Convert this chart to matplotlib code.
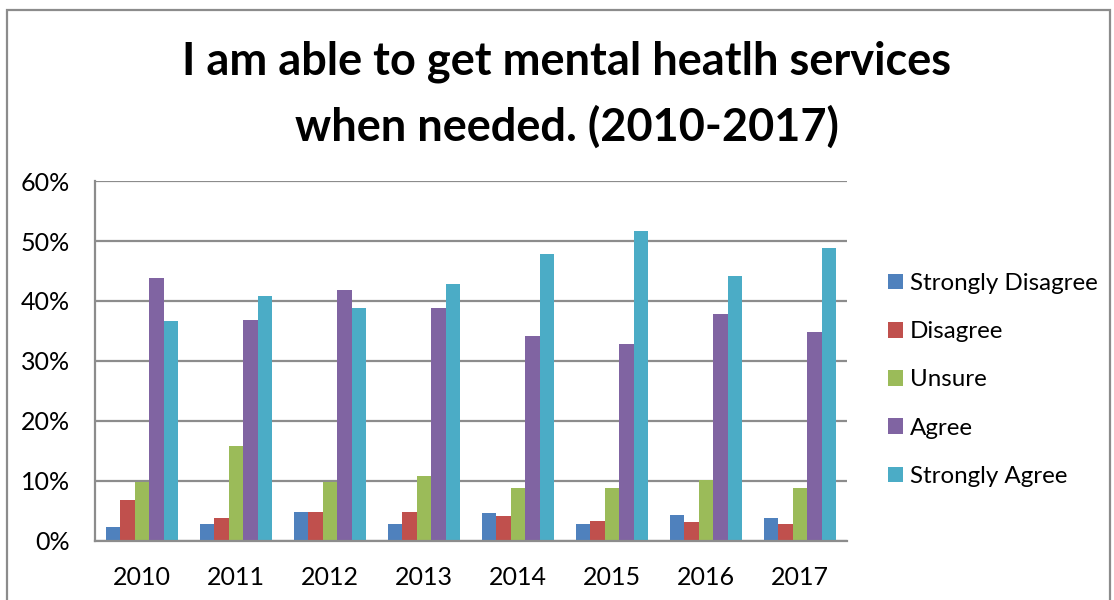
import numpy as np
import matplotlib.pyplot as plt
import matplotlib.patches as patches

plt.rcParams['font.family'] = ['Lato', 'DejaVu Sans']

# 年份与各选项占比（%）
years = ['2010', '2011', '2012', '2013', '2014', '2015', '2016', '2017']
strongly_disagree = [2.4, 2.9, 4.9, 2.9, 4.6, 2.8, 4.3, 3.8]
disagree = [6.8, 3.8, 4.9, 4.9, 4.2, 3.3, 3.1, 2.9]
unsure = [9.8, 15.9, 9.9, 10.9, 8.9, 8.8, 10.2, 8.8]
agree = [43.9, 36.9, 41.9, 38.9, 34.1, 32.9, 37.8, 34.9]
strongly_agree = [36.7, 40.9, 38.9, 42.9, 47.8, 51.7, 44.2, 48.9]

series = [strongly_disagree, disagree, unsure, agree, strongly_agree]
names = ['Strongly Disagree', 'Disagree', 'Unsure', 'Agree', 'Strongly Agree']
colors = ['#4F81BD', '#C0504D', '#9BBB59', '#8064A2', '#4BACC6']

fig = plt.figure(figsize=(11.14, 6), dpi=100)
ax = fig.add_axes([95/1114, 59/600, 752/1114, 360/600])

x = np.arange(len(years))
w = 0.153
for i, (vals, name, c) in enumerate(zip(series, names, colors)):
    ax.bar(x + (i - 2) * w, vals, w, color=c, label=name, zorder=3)

# 坐标轴和网格
ax.set_xlim(-0.5, len(years) - 0.5)
ax.set_ylim(0, 60)
ax.set_yticks(range(0, 61, 10))
ax.set_yticklabels([f'{v}%' for v in range(0, 61, 10)])
ax.set_xticks(x)
ax.set_xticklabels(years)
ax.tick_params(axis='both', length=0, labelsize=18, colors='black')
ax.tick_params(axis='y', pad=18)
ax.tick_params(axis='x', pad=18)
ax.grid(axis='y', color='#8C8C8C', linewidth=1.6, zorder=0)
for s in ['top', 'right']:
    ax.spines[s].set_visible(False)
for s in ['left', 'bottom']:
    ax.spines[s].set_color('#8C8C8C')
    ax.spines[s].set_linewidth(1.6)
    ax.spines[s].set_zorder(4)

# 标题
fig.text(567/1114, 1 - 62/600, 'I am able to get mental heatlh services',
         ha='center', va='center', fontsize=32.5, fontweight='bold')
fig.text(567/1114, 1 - 127/600, 'when needed. (2010-2017)',
         ha='center', va='center', fontsize=32.5, fontweight='bold')

# 图例
fig.legend(loc='center left', bbox_to_anchor=(888/1114, 1 - 380/600),
           frameon=False, fontsize=17.4, handlelength=0.62, handleheight=0.62,
           handletextpad=0.3, labelspacing=1.13, borderpad=0, borderaxespad=0)

# 外边框
border = patches.Rectangle((7/1114, -0.05), 1103/1114, 1.05 - 10/600,
                           transform=fig.transFigure, fill=False,
                           edgecolor='#8C8C8C', linewidth=1.6)
fig.patches.append(border)

plt.savefig('out.png', dpi=100)
